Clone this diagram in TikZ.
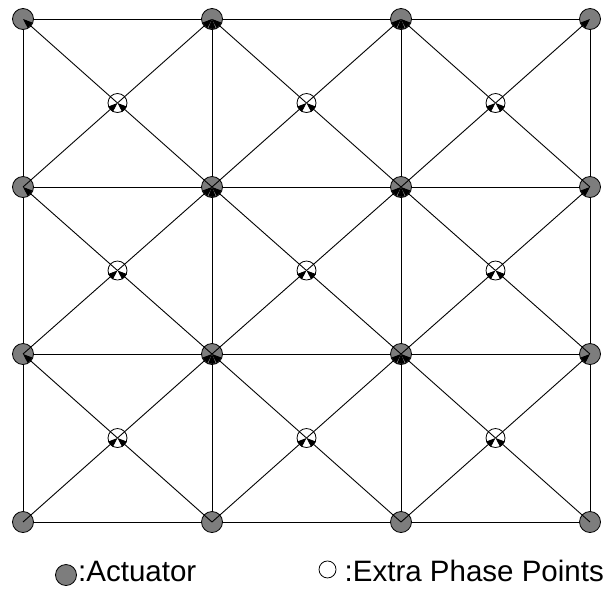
\documentclass[tikz,border=0pt]{standalone}
\usepackage{fontspec}
\setmainfont{Liberation Sans}
\usetikzlibrary{arrows.meta,calc}
\definecolor{actgray}{RGB}{125,125,125}
\begin{document}
\begin{tikzpicture}[x=1pt,y=-1pt,
  act/.style={circle,draw=black,fill=actgray,line width=0.8pt,minimum size=21pt,inner sep=0pt},
  extp/.style={circle,draw=black,fill=white,line width=0.8pt,minimum size=19pt,inner sep=0pt},
  gridline/.style={line width=0.9pt},
  uparrow/.style={line width=0.9pt,-{Triangle[length=9.5pt,width=7pt]}},
  legtext/.style={inner sep=0pt,font=\fontsize{29.5}{33}\selectfont}
  ]
\useasboundingbox (0,0) rectangle (609,590);
% coordinates of actuators
\foreach \x [count=\i from 0] in {23,212,401,590} {
  \foreach \y [count=\j from 0] in {19,187,354,522} {
    \coordinate (p-\i-\j) at (\x,\y);
  }
}
% grid lines (under the circles)
\foreach \j in {0,1,2,3} {
  \foreach \i in {0,1,2} {
    \pgfmathtruncatemacro\ii{\i+1}
    \draw[gridline] (p-\i-\j) -- (p-\ii-\j);
  }
}
\foreach \i in {0,1,2,3} {
  \foreach \j in {0,1,2} {
    \pgfmathtruncatemacro\jj{\j+1}
    \draw[gridline] (p-\i-\j) -- (p-\i-\jj);
  }
}
% actuators
\foreach \i in {0,1,2,3} {
  \foreach \j in {0,1,2,3} {
    \node[act] (a-\i-\j) at (p-\i-\j) {};
  }
}
% interior vertical arrows
\foreach \i in {1,2} {
  \foreach \j in {0,1,2} {
    \pgfmathtruncatemacro\jj{\j+1}
    \draw[uparrow] (a-\i-\jj.north) -- (a-\i-\j.center);
  }
}
% extra phase points
\foreach \i in {0,1,2} {
  \foreach \j in {0,1,2} {
    \pgfmathtruncatemacro\ii{\i+1}
    \pgfmathtruncatemacro\jj{\j+1}
    \node[extp] (e-\i-\j) at ($(p-\i-\j)!0.5!(p-\ii-\jj)$) {};
  }
}
% diagonals
\foreach \i in {0,1,2} {
  \foreach \j in {0,1,2} {
    \pgfmathtruncatemacro\ii{\i+1}
    \pgfmathtruncatemacro\jj{\j+1}
    \draw[uparrow] (a-\i-\jj.center) -- (e-\i-\j.center);
    \draw[uparrow] (a-\ii-\jj.center) -- (e-\i-\j.center);
    \draw[uparrow] (e-\i-\j.center) -- (a-\i-\j.center);
    \draw[uparrow] (e-\i-\j.center) -- (a-\ii-\j.center);
  }
}
% legend
\node[act] (legact) at (66,575) {};
\node[legtext,anchor=base west] (legacttext) at (78,581) {:Actuator};
\node[legtext,anchor=base east] (legexttext) at (604,581) {:Extra Phase Points};
\node[extp,minimum size=17pt] (legext) at ($(legexttext.west)+(-17,-1)$) {};
\end{tikzpicture}
\end{document}
